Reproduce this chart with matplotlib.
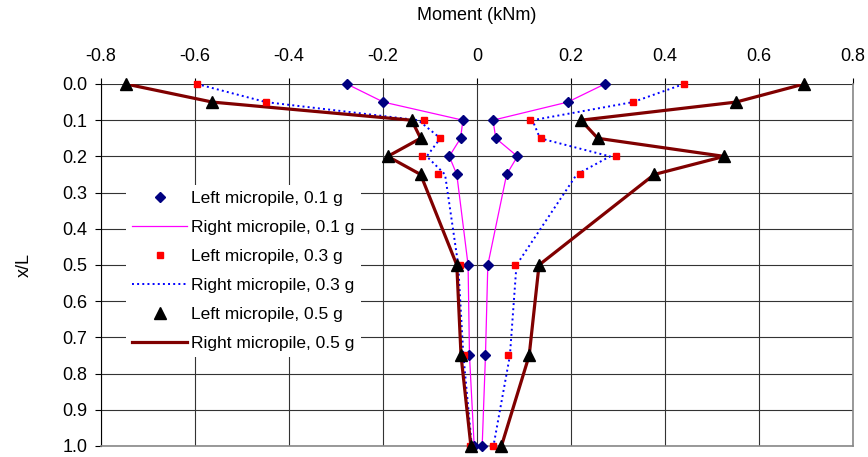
import matplotlib
matplotlib.use("Agg")
import matplotlib.pyplot as plt
from matplotlib.ticker import FuncFormatter

plt.rcParams['font.family'] = ['Liberation Sans', 'DejaVu Sans']

# depth ratio along the micropile
depth = [0.0, 0.05, 0.1, 0.15, 0.2, 0.25, 0.5, 0.75, 1.0]

# moment envelopes (kNm), negative and positive branches
left_01_neg = [-0.277, -0.199, -0.030, -0.035, -0.059, -0.043, -0.019, -0.016, -0.006]
left_01_pos = [0.272, 0.193, 0.034, 0.040, 0.086, 0.063, 0.023, 0.018, 0.011]
right_01_neg = [-0.277, -0.199, -0.030, -0.035, -0.059, -0.043, -0.019, -0.016, -0.006]
right_01_pos = [0.272, 0.193, 0.034, 0.040, 0.086, 0.063, 0.023, 0.018, 0.011]

left_03_neg = [-0.596, -0.449, -0.112, -0.078, -0.118, -0.082, -0.036, -0.028, -0.015]
left_03_pos = [0.440, 0.332, 0.112, 0.136, 0.296, 0.219, 0.081, 0.066, 0.033]
right_03_neg = [-0.596, -0.449, -0.125, -0.078, -0.107, -0.068, -0.040, -0.029, -0.011]
right_03_pos = [0.440, 0.332, 0.118, 0.134, 0.283, 0.212, 0.084, 0.070, 0.035]

left_05_neg = [-0.747, -0.563, -0.139, -0.120, -0.190, -0.120, -0.043, -0.034, -0.013]
left_05_pos = [0.696, 0.551, 0.221, 0.257, 0.526, 0.377, 0.132, 0.111, 0.052]
right_05_neg = [-0.747, -0.563, -0.139, -0.120, -0.190, -0.120, -0.043, -0.034, -0.013]
right_05_pos = [0.696, 0.551, 0.221, 0.257, 0.526, 0.377, 0.132, 0.111, 0.052]

x_ticks = [-0.8, -0.6, -0.4, -0.2, 0, 0.2, 0.4, 0.6, 0.8]
y_ticks = [0.0, 0.1, 0.2, 0.3, 0.4, 0.5, 0.6, 0.7, 0.8, 0.9, 1.0]

fig = plt.figure(figsize=(8.68, 4.57), dpi=100)
ax = fig.add_axes([0.1164, 0.0241, 0.8663, 0.7921])

# lines first, markers on top
ax.plot(right_01_neg, depth, color='#FF00FF', lw=0.9, label='Right micropile, 0.1 g', zorder=2)
ax.plot(right_01_pos, depth, color='#FF00FF', lw=0.9, zorder=2)
ax.plot(right_03_neg, depth, color='#0000FF', lw=1.4, ls=':', label='Right micropile, 0.3 g', zorder=2)
ax.plot(right_03_pos, depth, color='#0000FF', lw=1.4, ls=':', zorder=2)
ax.plot(right_05_neg, depth, color='#800000', lw=2.3, label='Right micropile, 0.5 g', zorder=2)
ax.plot(right_05_pos, depth, color='#800000', lw=2.3, zorder=2)

mk = dict(ls='none', clip_on=False, zorder=3)
ax.plot(left_01_neg + left_01_pos, depth + depth, marker='D', ms=5.5, color='#000080',
        label='Left micropile, 0.1 g', **mk)
ax.plot(left_03_neg + left_03_pos, depth + depth, marker='s', ms=4.5, color='#FF0000',
        label='Left micropile, 0.3 g', **mk)
ax.plot(left_05_neg + left_05_pos, depth + depth, marker='^', ms=8, color='black',
        label='Left micropile, 0.5 g', **mk)

ax.set_xlim(-0.8, 0.8)
ax.set_ylim(1.0, 0.0)
ax.set_xticks(x_ticks)
ax.set_yticks(y_ticks)
ax.xaxis.set_major_formatter(FuncFormatter(lambda v, p: '0' if abs(v) < 1e-9 else '%g' % v))
ax.yaxis.set_major_formatter(FuncFormatter(lambda v, p: '%.1f' % v))
ax.xaxis.tick_top()
ax.xaxis.set_label_position('top')
ax.tick_params(axis='both', direction='out', length=4, width=0.8, labelsize=13, colors='black')
ax.tick_params(axis='y', pad=6)
ax.tick_params(axis='x', pad=10)
ax.set_xlabel('Moment (kNm)', fontsize=13, labelpad=20)
ax.set_ylabel('x/L', fontsize=13, labelpad=21)

ax.grid(True, color='#333333', lw=0.8)
ax.set_axisbelow(True)
for side in ['right', 'bottom']:
    ax.spines[side].set_color('#888888')
    ax.spines[side].set_linewidth(1.2)
ax.spines['left'].set_color('black')
ax.spines['top'].set_visible(False)

handles, labels = ax.get_legend_handles_labels()
order = [3, 0, 4, 1, 5, 2]
leg = ax.legend([handles[i] for i in order], [labels[i] for i in order],
                loc='upper left', bbox_to_anchor=(0.033, 0.722), fontsize=12.5,
                frameon=True, facecolor='white', edgecolor='none', framealpha=1,
                fancybox=False, handlelength=3.2, handletextpad=0.23,
                labelspacing=0.8, borderpad=0.35, borderaxespad=0)
leg.set_zorder(4)

fig.savefig('out.png', dpi=100)
